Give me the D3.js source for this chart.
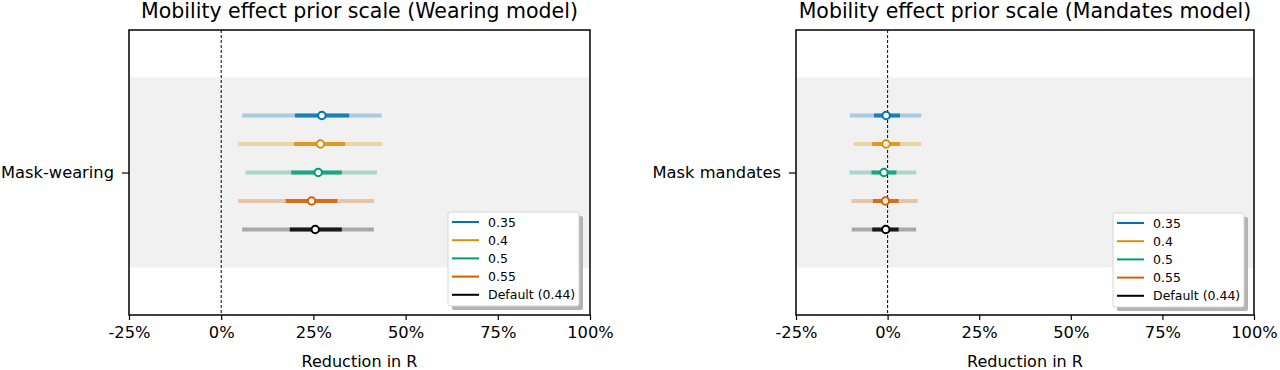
<!DOCTYPE html>
<html>
<head>
<meta charset="utf-8">
<script src="https://cdn.jsdelivr.net/npm/d3@7"></script>
<style>
  body { margin: 0; background: #fff; }
  svg { font-family: "DejaVu Sans", sans-serif; }
</style>
</head>
<body>
<svg id="chart" width="1280" height="370"></svg>
<script>

// data (percent reduction in R)
const scales = ['0.35', '0.4', '0.5', '0.55', 'Default (0.44)'];
const colors = ['#0173b2', '#de8f05', '#029e73', '#d55e00', '#000000'];
const xTicks = [-25, 0, 25, 50, 75, 100];

// wearing model
const wearMedian = [27.3, 26.9, 26.3, 24.5, 25.5];
const wearLo50 = [20.0, 19.8, 19.0, 17.5, 18.6];
const wearHi50 = [34.7, 33.6, 32.7, 31.5, 32.7];
const wearLo95 = [5.7, 4.6, 6.6, 4.6, 5.7];
const wearHi95 = [43.5, 43.7, 42.2, 41.5, 41.4];

// mandates model
const mandMedian = [-0.4, -0.4, -1.0, -0.6, -0.5];
const mandLo50 = [-3.7, -4.2, -4.4, -4.0, -4.2];
const mandHi50 = [3.4, 3.4, 2.4, 3.0, 3.0];
const mandLo95 = [-10.3, -9.3, -10.4, -9.9, -9.8];
const mandHi95 = [9.2, 9.2, 7.8, 8.2, 7.8];

const offsets = [-0.3, -0.15, 0, 0.15, 0.3];

const svg = d3.select('#chart');

function drawPanel(opts) {
    const g = svg.append('g');
    const x = d3.scaleLinear().domain([-25, 100]).range([opts.left, opts.right]);
    const y = d3.scaleLinear().domain([-0.75, 0.75]).range([opts.top, opts.bottom]);

    // grey band behind the feature
    g.append('rect')
        .attr('x', opts.left)
        .attr('y', y(-0.5))
        .attr('width', opts.right - opts.left)
        .attr('height', y(0.5) - y(-0.5))
        .attr('fill', '#f1f1f1');

    // zero line
    g.append('line')
        .attr('x1', x(0)).attr('x2', x(0))
        .attr('y1', opts.top).attr('y2', opts.bottom)
        .attr('stroke', '#000')
        .attr('stroke-width', 1)
        .attr('stroke-dasharray', '3,2');

    // intervals
    scales.forEach((s, i) => {
        const yy = y(offsets[i]);
        g.append('line')
            .attr('x1', x(opts.lo95[i])).attr('x2', x(opts.hi95[i]))
            .attr('y1', yy).attr('y2', yy)
            .attr('stroke', colors[i])
            .attr('stroke-opacity', 0.3)
            .attr('stroke-width', 4);
        g.append('line')
            .attr('x1', x(opts.lo50[i])).attr('x2', x(opts.hi50[i]))
            .attr('y1', yy).attr('y2', yy)
            .attr('stroke', colors[i])
            .attr('stroke-opacity', 0.85)
            .attr('stroke-width', 4);
        g.append('circle')
            .attr('cx', x(opts.median[i]))
            .attr('cy', yy)
            .attr('r', 3.7)
            .attr('fill', '#fff')
            .attr('stroke', colors[i])
            .attr('stroke-width', 2);
    });

    // axes
    const xAxis = g.append('g')
        .attr('transform', `translate(0,${opts.bottom})`)
        .call(d3.axisBottom(x).tickValues(xTicks).tickFormat(d => `${d}%`).tickSizeOuter(0).tickSize(5).tickPadding(6));
    xAxis.select('.domain').remove();
    xAxis.selectAll('text').attr('font-size', 16.3).attr('fill', '#000').attr('font-family', 'DejaVu Sans');
    xAxis.selectAll('line').attr('stroke', '#000').attr('stroke-width', 1.2);

    const yAxis = g.append('g')
        .attr('transform', `translate(${opts.left},0)`)
        .call(d3.axisLeft(y).tickValues([0]).tickFormat(() => opts.feature).tickSizeOuter(0).tickSize(7).tickPadding(8));
    yAxis.select('.domain').remove();
    yAxis.selectAll('text').attr('font-size', 16.3).attr('fill', '#000').attr('font-family', 'DejaVu Sans');
    yAxis.selectAll('line').attr('stroke', '#000').attr('stroke-width', 1.2);

    // frame
    g.append('rect')
        .attr('x', opts.left).attr('y', opts.top)
        .attr('width', opts.right - opts.left)
        .attr('height', opts.bottom - opts.top)
        .attr('fill', 'none')
        .attr('stroke', '#000')
        .attr('stroke-width', 1.5);

    // title and x label
    g.append('text')
        .attr('x', (opts.left + opts.right) / 2)
        .attr('y', 18)
        .attr('text-anchor', 'middle')
        .attr('font-size', 20.5)
        .text(opts.title);
    g.append('text')
        .attr('x', (opts.left + opts.right) / 2)
        .attr('y', 367)
        .attr('text-anchor', 'middle')
        .attr('font-size', 16)
        .text('Reduction in R');

    // legend
    const lx = opts.legendX, ly = opts.legendY;
    const lw = 131, lh = 94;
    g.append('rect')
        .attr('x', lx + 4).attr('y', ly + 4)
        .attr('width', lw).attr('height', lh)
        .attr('rx', 2)
        .attr('fill', '#b3b3b3');
    g.append('rect')
        .attr('x', lx).attr('y', ly)
        .attr('width', lw).attr('height', lh)
        .attr('rx', 2)
        .attr('fill', '#fff')
        .attr('stroke', '#d6d6d6')
        .attr('stroke-width', 1);
    scales.forEach((s, i) => {
        const yy = ly + 10 + i * 18.2;
        g.append('line')
            .attr('x1', lx + 4).attr('x2', lx + 31)
            .attr('y1', yy).attr('y2', yy)
            .attr('stroke', colors[i])
            .attr('stroke-width', 2);
        g.append('text')
            .attr('x', lx + 40)
            .attr('y', yy + 4.5)
            .attr('font-size', 12.5)
            .text(s);
    });
}

drawPanel({
    left: 129, right: 590, top: 30, bottom: 315,
    title: 'Mobility effect prior scale (Wearing model)',
    feature: 'Mask-wearing',
    median: wearMedian, lo50: wearLo50, hi50: wearHi50, lo95: wearLo95, hi95: wearHi95,
    legendX: 448, legendY: 212
});

drawPanel({
    left: 796, right: 1254, top: 30, bottom: 315,
    title: 'Mobility effect prior scale (Mandates model)',
    feature: 'Mask mandates',
    median: mandMedian, lo50: mandLo50, hi50: mandHi50, lo95: mandLo95, hi95: mandHi95,
    legendX: 1113, legendY: 213
});

</script>
</body>
</html>
